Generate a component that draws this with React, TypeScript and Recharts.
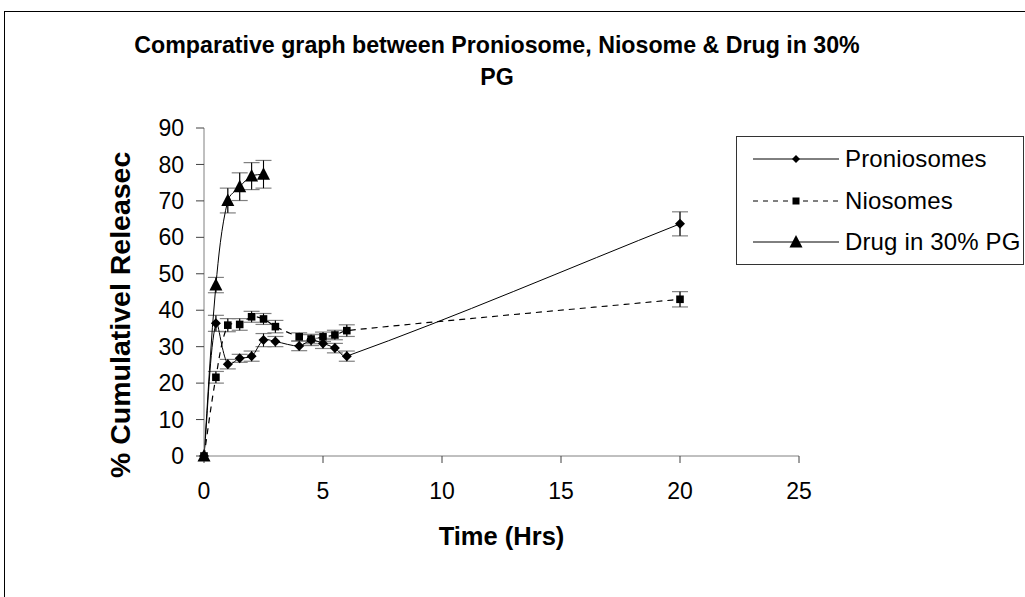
import { LineChart, Line, XAxis, YAxis, ErrorBar } from "recharts"

const times = [0, 0.5, 1, 1.5, 2, 2.5, 3, 4, 4.5, 5, 5.5, 6, 20]
const proniosomes = [0, 36.4, 25.2, 26.8, 27.4, 31.8, 31.4, 30.2, 31.8, 30.9, 29.6, 27.4, 63.7]
const proniosomeErr = [0, 2.2, 1.3, 1.1, 1.4, 1.8, 1.4, 1.3, 1.5, 1.4, 1.3, 1.4, 3.3]
const niosomes = [0, 21.6, 35.9, 36.1, 38.2, 37.6, 35.5, 32.7, 32.1, 32.7, 33.2, 34.4, 43.0]
const niosomeErr = [0, 1.6, 1.8, 1.6, 1.5, 1.5, 1.7, 1.1, 1.3, 1.3, 1.3, 1.6, 2.1]
const drugTimes = [0, 0.5, 1, 1.5, 2, 2.5]
const drug = [0, 46.9, 70.1, 73.9, 76.8, 77.3]
const drugErr = [0, 2.1, 3.4, 3.8, 3.7, 3.8]

const xTicks = [0, 5, 10, 15, 20, 25]
const yTicks = [0, 10, 20, 30, 40, 50, 60, 70, 80, 90]

const FONT = "'Liberation Sans', Arial, sans-serif"

const toRows = (xs: number[], ys: number[], es: number[]) =>
  xs.map((t, i) => ({ t, v: ys[i], e: es[i] }))

const proRows = toRows(times, proniosomes, proniosomeErr)
const nioRows = toRows(times, niosomes, niosomeErr)
const drugRows = toRows(drugTimes, drug, drugErr)

// excel-like smoothing; tangents weighted by chord length so long gaps don't loop
const excelSmooth = (context: any) => {
  let pts: number[][] = []
  const dist = (a: number[], b: number[]) => Math.hypot(b[0] - a[0], b[1] - a[1])
  return {
    areaStart() {},
    areaEnd() {},
    lineStart() {
      pts = []
    },
    point(x: number, y: number) {
      pts.push([+x, +y])
    },
    lineEnd() {
      if (!pts.length) return
      context.moveTo(pts[0][0], pts[0][1])
      for (let i = 0; i < pts.length - 1; i++) {
        const p0 = pts[Math.max(i - 1, 0)]
        const p1 = pts[i]
        const p2 = pts[i + 1]
        const p3 = pts[Math.min(i + 2, pts.length - 1)]
        const d01 = dist(p0, p1)
        const d12 = dist(p1, p2)
        const d23 = dist(p2, p3)
        const k1 = d01 + d12 > 0 ? d12 / (d01 + d12) / 3 : 0
        const k2 = d12 + d23 > 0 ? d12 / (d12 + d23) / 3 : 0
        context.bezierCurveTo(
          p1[0] + (p2[0] - p0[0]) * k1,
          p1[1] + (p2[1] - p0[1]) * k1,
          p2[0] - (p3[0] - p1[0]) * k2,
          p2[1] - (p3[1] - p1[1]) * k2,
          p2[0],
          p2[1]
        )
      }
    },
  }
}

const Diamond = ({ cx, cy, s = 5 }: any) =>
  cx == null ? <g /> : <polygon points={`${cx},${cy - s} ${cx + s},${cy} ${cx},${cy + s} ${cx - s},${cy}`} fill="#000" />

const Square = ({ cx, cy, s = 4 }: any) =>
  cx == null ? <g /> : <rect x={cx - s} y={cy - s} width={s * 2} height={s * 2} fill="#000" />

const Triangle = ({ cx, cy, s = 6.5 }: any) =>
  cx == null ? <g /> : <polygon points={`${cx},${cy - 7} ${cx + s},${cy + 5.5} ${cx - s},${cy + 5.5}`} fill="#000" />

const legendItems = [
  { name: "Proniosomes", dash: undefined, Marker: Diamond, size: 4 },
  { name: "Niosomes", dash: "5 5", Marker: Square, size: 3.5 },
  { name: "Drug in 30% PG", dash: undefined, Marker: Triangle, size: 6.5 },
]

function LegendBox() {
  return (
    <div
      style={{
        position: "absolute",
        left: 736,
        top: 136,
        width: 286,
        height: 127,
        border: "1px solid #333",
        overflow: "hidden",
        background: "#fff",
      }}
    >
      {legendItems.map((it, i) => (
        <div key={it.name} style={{ position: "absolute", left: 0, top: 4 + i * 41.5, height: 36, whiteSpace: "nowrap" }}>
          <svg width={104} height={36} style={{ position: "absolute", left: 0, top: 0 }}>
            <line x1={16} x2={102} y1={18} y2={18} stroke="#000" strokeWidth={1} strokeDasharray={it.dash} />
            <it.Marker cx={59} cy={18} s={it.size} />
          </svg>
          <span
            style={{
              position: "absolute",
              left: 108,
              top: 0,
              lineHeight: "36px",
              fontSize: 24,
              fontFamily: FONT,
              color: "#000",
              letterSpacing: 0.15,
            }}
          >
            {it.name}
          </span>
        </div>
      ))}
    </div>
  )
}

export default function App() {
  return (
    <div
      style={{
        position: "absolute",
        left: 0,
        top: 0,
        width: 1025,
        height: 597,
        overflow: "hidden",
        background: "#fff",
        fontFamily: FONT,
      }}
    >
      <div
        style={{
          position: "absolute",
          left: 4,
          top: 11,
          width: 1100,
          height: 700,
          border: "1px solid #000",
        }}
      />
      <div
        style={{
          position: "absolute",
          left: 0,
          top: 29,
          width: 994,
          textAlign: "center",
          fontWeight: "bold",
          fontSize: 23.2,
          lineHeight: "32px",
          color: "#000",
        }}
      >
        Comparative graph between Proniosome, Niosome &amp; Drug in 30%
        <br />
        PG
      </div>
      <div style={{ position: "absolute", left: 0, top: 0 }}>
        <LineChart width={1025} height={597} margin={{ top: 128, right: 226, bottom: 81, left: 124 }}>
          <XAxis
            type="number"
            dataKey="t"
            domain={[0, 25]}
            ticks={xTicks}
            interval={0}
            height={60}
            tickSize={7}
            tickMargin={20}
            axisLine={{ stroke: "#808080" }}
            tickLine={{ stroke: "#404040" }}
            tick={{ fontSize: 23, fill: "#000", fontFamily: FONT }}
            allowDuplicatedCategory={false}
            label={{
              content: (p: any) => (
                <text
                  x={p.viewBox.x + p.viewBox.width / 2}
                  y={545}
                  textAnchor="middle"
                  fontSize={25.5}
                  fontWeight="bold"
                  fontFamily={FONT}
                  fill="#000"
                >
                  Time (Hrs)
                </text>
              ),
            }}
          />
          <YAxis
            type="number"
            domain={[0, 90]}
            ticks={yTicks}
            interval={0}
            width={80}
            tickSize={8}
            tickMargin={12}
            axisLine={{ stroke: "#808080" }}
            tickLine={{ stroke: "#404040" }}
            tick={{ fontSize: 23, fill: "#000", fontFamily: FONT }}
            label={{
              content: () => (
                <text
                  x={130}
                  y={478}
                  transform="rotate(-90 130 478)"
                  fontSize={28.5}
                  fontWeight="bold"
                  fontFamily={FONT}
                  fill="#000"
                >
                  % Cumulativel Releasec
                </text>
              ),
            }}
          />
          <Line
            data={nioRows}
            dataKey="v"
            name="Niosomes"
            type={excelSmooth as any}
            stroke="#000"
            strokeWidth={1.2}
            strokeDasharray="6 5"
            dot={(p: any) => <Square key={p.index} cx={p.cx} cy={p.cy} s={3.8} />}
            activeDot={false}
            isAnimationActive={false}
          >
            <ErrorBar dataKey="e" width={8} stroke="#808080" strokeWidth={1.2} direction="y" isAnimationActive={false} />
            <ErrorBar dataKey="e" width={0} stroke="#000" strokeWidth={1} direction="y" isAnimationActive={false} />
          </Line>
          <Line
            data={proRows}
            dataKey="v"
            name="Proniosomes"
            type={excelSmooth as any}
            stroke="#000"
            strokeWidth={1}
            dot={(p: any) => <Diamond key={p.index} cx={p.cx} cy={p.cy} s={5} />}
            activeDot={false}
            isAnimationActive={false}
          >
            <ErrorBar dataKey="e" width={8} stroke="#808080" strokeWidth={1.2} direction="y" isAnimationActive={false} />
            <ErrorBar dataKey="e" width={0} stroke="#000" strokeWidth={1} direction="y" isAnimationActive={false} />
          </Line>
          <Line
            data={drugRows}
            dataKey="v"
            name="Drug in 30% PG"
            type={excelSmooth as any}
            stroke="#000"
            strokeWidth={1}
            dot={(p: any) => <Triangle key={p.index} cx={p.cx} cy={p.cy} s={6.5} />}
            activeDot={false}
            isAnimationActive={false}
          >
            <ErrorBar dataKey="e" width={8} stroke="#808080" strokeWidth={1.2} direction="y" isAnimationActive={false} />
            <ErrorBar dataKey="e" width={0} stroke="#000" strokeWidth={1} direction="y" isAnimationActive={false} />
          </Line>
        </LineChart>
      </div>
      <LegendBox />
    </div>
  )
}
